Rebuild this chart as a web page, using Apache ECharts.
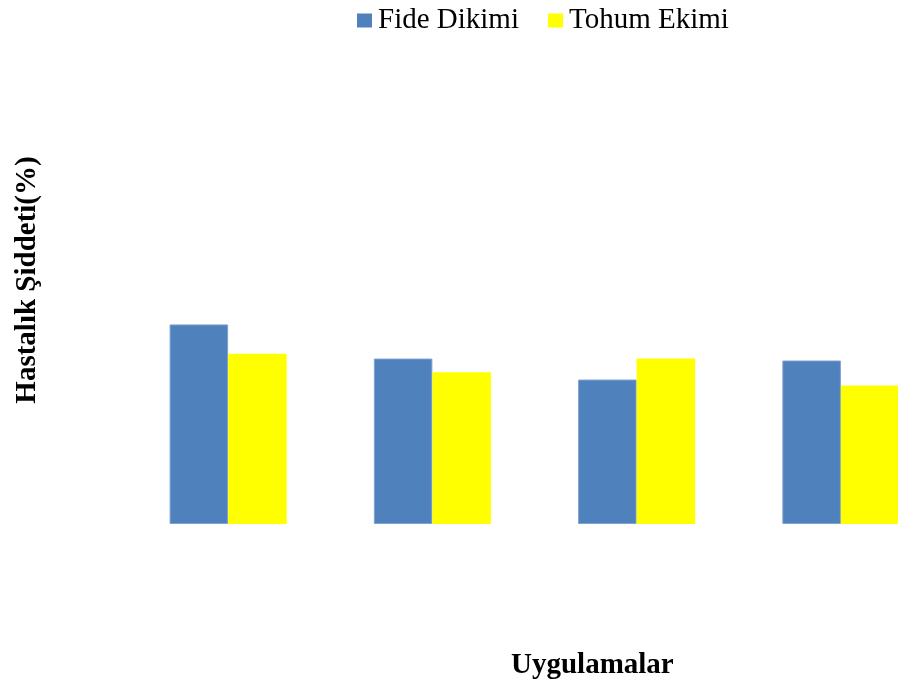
<!DOCTYPE html>
<html>
<head>
<meta charset="utf-8">
<style>
  html, body { margin: 0; padding: 0; background: #ffffff; overflow: hidden; }
  /* the plot runs past the right edge of the page: the last pair of bars is cut off */
  #chart { width: 943px; height: 682px; }
</style>
<script src="https://cdn.jsdelivr.net/npm/echarts@6/dist/echarts.min.js"></script>
</head>
<body>
<div id="chart"></div>
<script>
// Treatments (category labels are not printed on the axis)
const categories = ['Uygulama 1', 'Uygulama 2', 'Uygulama 3', 'Uygulama 4'];

// Disease severity (%) per planting method
const fideDikimi = [40.9, 33.9, 29.6, 33.5];
const tohumEkimi = [34.9, 31.1, 33.9, 28.4];

const seriesNames = ['Fide Dikimi', 'Tohum Ekimi'];
const yAxisTitle = 'Hastalık Şiddeti(%)';
const xAxisTitle = 'Uygulamalar';

const chart = echarts.init(document.getElementById('chart'), null, { renderer: 'canvas' });

const serif = '"Liberation Serif", "Times New Roman", serif';

chart.setOption({
  backgroundColor: '#ffffff',
  animation: false,
  title: {
    text: xAxisTitle,
    left: 506,
    top: 646,
    textStyle: { fontFamily: serif, fontWeight: 'bold', fontSize: 29, color: '#000000' }
  },
  legend: {
    data: seriesNames,
    left: 357,
    top: 6,
    padding: 0,
    itemWidth: 15,
    itemHeight: 14,
    itemGap: 29,
    icon: 'rect',
    itemStyle: { borderWidth: 0 },
    textStyle: { fontFamily: serif, fontSize: 29, color: '#000000', padding: [0, 0, 0, 1] }
  },
  grid: { left: 126, right: 0, top: 36, bottom: 158, containLabel: false },
  xAxis: {
    type: 'category',
    data: categories,
    axisLine: { show: false },
    axisTick: { show: false },
    axisLabel: { show: false },
    splitLine: { show: false }
  },
  yAxis: {
    type: 'value',
    min: 0,
    max: 100,
    name: yAxisTitle,
    nameLocation: 'middle',
    nameGap: 84,
    nameRotate: 90,
    nameTextStyle: { fontFamily: serif, fontWeight: 'bold', fontSize: 29, color: '#000000' },
    axisLine: { show: false },
    axisTick: { show: false },
    axisLabel: { show: false },
    splitLine: { show: false }
  },
  series: [
    {
      name: seriesNames[0],
      type: 'bar',
      data: fideDikimi,
      barGap: '0%',
      barCategoryGap: '42.7%',
      itemStyle: { color: '#4F81BD', borderColor: '#7FA1D1', borderWidth: 1 }
    },
    {
      name: seriesNames[1],
      type: 'bar',
      data: tohumEkimi,
      itemStyle: { color: '#FFFF00' }
    }
  ]
});
</script>
</body>
</html>
